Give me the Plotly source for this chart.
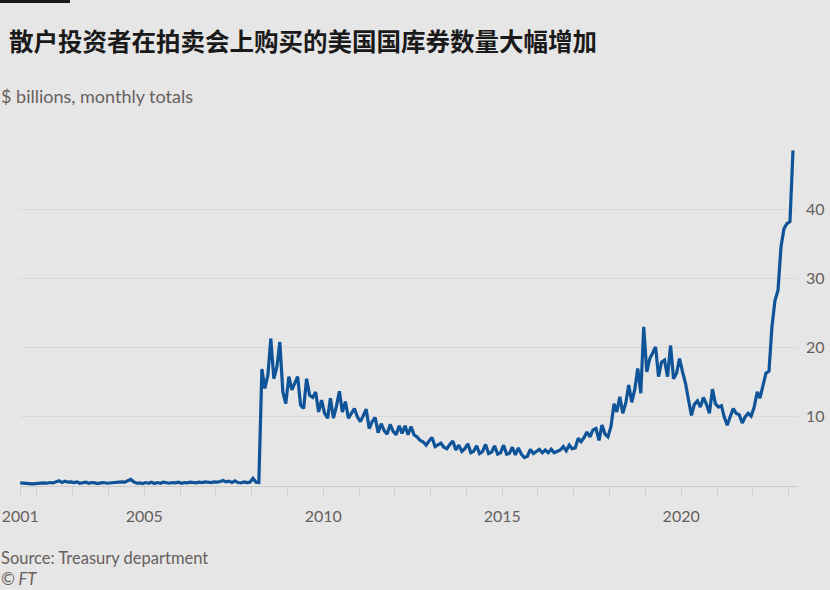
import plotly.graph_objects as go
import pandas as pd

# ---------------- data ($ billions, monthly totals) ----------------
start_month = "2001-07"
v2001 = [0.45, 0.4, 0.3, 0.35, 0.3, 0.35]  # Jul-Dec
v2002 = [0.4, 0.35, 0.45, 0.4, 0.5, 0.45, 0.6, 0.75, 0.5, 0.7, 0.55, 0.6]
v2003 = [0.5, 0.6, 0.4, 0.5, 0.55, 0.4, 0.5, 0.45, 0.35, 0.45, 0.5, 0.4]
v2004 = [0.45, 0.5, 0.55, 0.5, 0.6, 0.55, 0.7, 0.95, 0.6, 0.4, 0.45, 0.35]
v2005 = [0.5, 0.4, 0.55, 0.35, 0.5, 0.4, 0.55, 0.45, 0.4, 0.5, 0.45, 0.55]
v2006 = [0.4, 0.5, 0.45, 0.55, 0.5, 0.45, 0.55, 0.5, 0.6, 0.55, 0.5, 0.6]
v2007 = [0.55, 0.65, 0.8, 0.6, 0.7, 0.5, 0.75, 0.5, 0.45, 0.6, 0.5, 0.55]
v2008 = [1.1, 0.55, 0.5, 16.9, 14.1, 16.0, 21.3, 15.5, 17.2, 20.8, 13.6, 11.9]
v2009 = [15.8, 13.9, 14.8, 15.8, 11.7, 11.2, 15.5, 13.1, 12.8, 13.6, 10.7, 12.4]
v2010 = [10.5, 9.8, 12.7, 9.8, 11.5, 13.7, 10.7, 12.2, 9.8, 10.5, 11.2, 10.0]
v2011 = [9.3, 10.2, 11.1, 8.3, 9.3, 9.9, 7.7, 9.0, 8.0, 7.5, 8.9, 7.9]
v2012 = [7.4, 8.7, 7.6, 8.7, 7.4, 8.6, 7.4, 7.1, 6.6, 6.4, 5.9, 6.5]
v2013 = [7.0, 5.7, 5.9, 6.2, 5.6, 5.4, 6.0, 6.5, 5.2, 5.9, 5.0, 5.4]
v2014 = [6.1, 4.8, 5.0, 5.8, 4.7, 5.0, 6.0, 4.7, 4.9, 5.8, 4.6, 4.8]
v2015 = [5.9, 4.6, 4.7, 5.6, 4.5, 5.5, 4.6, 4.1, 4.3, 5.3, 4.7, 5.0]
v2016 = [5.3, 4.8, 5.2, 4.8, 5.3, 4.8, 5.0, 5.2, 5.7, 5.1, 5.9, 5.4]
v2017 = [5.5, 6.9, 6.4, 7.0, 7.8, 7.1, 8.1, 8.3, 6.6, 8.8, 7.5, 7.1]
v2018 = [8.6, 11.9, 10.7, 12.9, 10.5, 12.0, 14.6, 12.1, 14.0, 17.0, 13.4, 23.0]
v2019 = [16.5, 18.4, 19.2, 20.1, 15.8, 17.9, 18.2, 15.8, 20.3, 15.5, 16.3, 18.4]
v2020 = [16.5, 14.8, 12.5, 10.2, 11.8, 12.3, 11.4, 12.8, 11.8, 10.5, 14.0, 11.9]
v2021 = [11.4, 11.6, 10.0, 8.8, 10.0, 11.2, 10.5, 10.3, 9.1, 10.0, 10.5, 10.1]
v2022 = [11.4, 13.6, 12.7, 14.8, 16.3, 16.6, 23.0, 26.8, 28.3, 34.5, 37.2, 37.9]
v2023 = [38.2, 48.5]  # Jan-Feb

values = (v2001 + v2002 + v2003 + v2004 + v2005 + v2006 + v2007 + v2008 +
          v2009 + v2010 + v2011 + v2012 + v2013 + v2014 + v2015 + v2016 +
          v2017 + v2018 + v2019 + v2020 + v2021 + v2022 + v2023)
dates = pd.date_range(start_month, periods=len(values), freq="MS") + pd.Timedelta(days=14)

y_ticks = [10, 20, 30, 40]
x_tick_years = list(range(2002, 2024))
x_labelled = {2005, 2010, 2015, 2020}
first_tick_label = "2001"

title_text = "散户投资者在拍卖会上购买的美国国库券数量大幅增加"
subtitle_text = "$ billions, monthly totals"
source_text = "Source: Treasury department"
credit_text = "© FT"

# ---------------- layout geometry ----------------
W, H = 830, 590
L, R, T, B = 20, 798, 140, 486


def px(x):
    return (x - L) / (R - L)


def py(y):
    return (B - y) / (B - T)


BG = "#e6e6e6"
LINE = "#0f5499"
TXT = "#66605c"
GRID = "#dcd8d5"

tickvals = [dates[0]] + [pd.Timestamp(f"{y}-01-01") for y in x_tick_years]
ticktext = [first_tick_label] + [str(y) if y in x_labelled else "" for y in x_tick_years]

fig = go.Figure()
fig.add_trace(go.Scatter(
    x=dates, y=values, mode="lines",
    line=dict(color=LINE, width=3.2), hoverinfo="skip", showlegend=False,
))

fig.update_layout(
    width=W, height=H,
    autosize=False,
    margin=dict(l=L, r=W - R, t=T, b=H - B, pad=0, autoexpand=False),
    paper_bgcolor=BG, plot_bgcolor=BG,
    font=dict(family="Lato, sans-serif", color=TXT),
    showlegend=False,
    xaxis=dict(
        type="date", range=["2001-07-13", "2023-04-07"],
        tickmode="array", tickvals=tickvals, ticktext=ticktext,
        showgrid=False, zeroline=False, automargin=False,
        showline=True, linecolor="#cbcbcb", linewidth=1,
        ticks="outside", ticklen=8, tickcolor="#cbcbcb", tickwidth=1,
        tickfont=dict(size=16, color=TXT, family="Lato, sans-serif"),
        ticklabelstandoff=8,
        fixedrange=True,
    ),
    yaxis=dict(
        side="right", range=[0, 50], automargin=False,
        tickmode="array", tickvals=y_ticks,
        showgrid=True, gridcolor=GRID, gridwidth=1,
        zeroline=False, showline=False, ticks="",
        tickfont=dict(size=16, color=TXT, family="Lato, sans-serif"),
        ticklabelstandoff=7,
        fixedrange=True,
    ),
)

ann = dict(xref="paper", yref="paper", showarrow=False, xanchor="left", yanchor="middle")
fig.add_annotation(text=f"<b>{title_text}</b>", x=px(7), y=py(40),
                   font=dict(family="Noto Sans CJK SC", size=24.5, color="#1a1a1a"), **ann)
fig.add_annotation(text=subtitle_text, x=px(-1), y=py(96),
                   font=dict(family="Lato, sans-serif", size=18, color=TXT), **ann)
fig.add_annotation(text=source_text, x=px(-1), y=py(558),
                   font=dict(family="Lato, sans-serif", size=16.5, color=TXT), **ann)
fig.add_annotation(text=f"<i>{credit_text}</i>", x=px(-1), y=py(579),
                   font=dict(family="Lato, sans-serif", size=16.5, color=TXT), **ann)

fig.add_shape(type="rect", xref="paper", yref="paper",
              x0=px(0), x1=px(70), y0=py(3), y1=py(0),
              fillcolor="#1a1a1a", line=dict(width=0), layer="above")

fig.write_html(
    "out.html",
    config={"displayModeBar": False},
    post_script="document.body.style.margin='0';document.body.style.background='#e6e6e6';",
)
